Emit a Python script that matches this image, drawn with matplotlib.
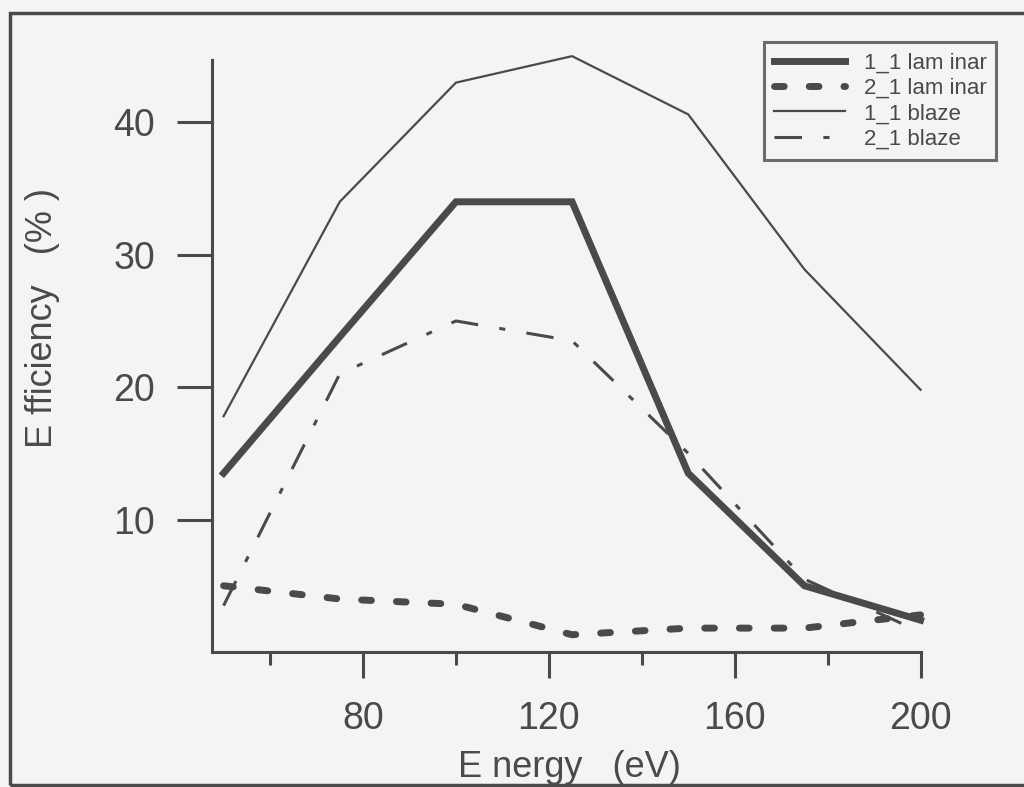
import numpy as np
import matplotlib.pyplot as plt
from matplotlib.patches import Rectangle

energy = [50, 75, 100, 125, 150, 175, 200]
lam_1_1 = [13.5, 23.8, 34.0, 34.0, 13.5, 5.0, 2.4]
lam_2_1 = [5.0, 4.0, 3.6, 1.3, 1.8, 1.8, 2.8]
blaze_1_1 = [17.8, 34.0, 43.0, 45.0, 40.6, 28.9, 19.8]
blaze_2_1 = [3.5, 21.0, 25.0, 23.5, 15.0, 5.5, 1.5]

ink = '#4a4a4a'
plt.rcParams['font.family'] = ['Liberation Sans', 'DejaVu Sans']

fig = plt.figure(figsize=(10.24, 7.87), dpi=100, facecolor='#f4f4f2')
ax = fig.add_axes([0.207, 0.1716, 0.692, 0.752])
ax.set_facecolor('#f4f4f2')

ax.plot(energy, lam_1_1, color=ink, lw=5, solid_joinstyle='miter', label='1_1 lam inar',
        clip_on=False)
ax.plot(energy, lam_2_1, color=ink, lw=5, dashes=(1.4, 3.6), dash_capstyle='round',
        label='2_1 lam inar', clip_on=False)
ax.plot(energy, blaze_1_1, color=ink, lw=1.6, label='1_1 blaze', clip_on=False)
ax.plot(energy, blaze_2_1, color=ink, lw=2.2, dashes=(9, 7, 2, 7), label='2_1 blaze',
        clip_on=False)

ax.set_xlim(47.5, 200)
ax.set_ylim(0, 44.7)
for s in ['top', 'right']:
    ax.spines[s].set_visible(False)
for s in ['left', 'bottom']:
    ax.spines[s].set_color(ink)
    ax.spines[s].set_linewidth(2.2)

ax.set_xticks([80, 120, 160, 200])
ax.set_xticks([60, 100, 140, 180], minor=True)
ax.set_yticks([10, 20, 30, 40])
ax.tick_params(axis='x', which='major', length=19, width=2.2, color=ink,
               labelsize=27, labelcolor=ink, pad=16)
ax.tick_params(axis='x', which='minor', length=9, width=2.2, color=ink)
ax.tick_params(axis='y', which='major', length=25, width=2.2, color=ink,
               labelsize=27, labelcolor=ink, pad=16)

ax.set_xlabel('E nergy   (eV)', fontsize=26, color=ink)
ax.xaxis.set_label_coords(0.504, -0.165)
ax.set_ylabel('E fficiency   (% )', fontsize=26, color=ink)
ax.yaxis.set_label_coords(-0.215, 0.565)

leg = ax.legend(loc='upper right', bbox_to_anchor=(1.107, 1.030), borderaxespad=0,
                fontsize=16, frameon=True, fancybox=False, handlelength=3.2,
                labelspacing=0.2, borderpad=0.45, handletextpad=0.85)
leg.get_frame().set_edgecolor(ink)
leg.get_frame().set_linewidth(2.2)
leg.get_frame().set_facecolor('#f4f4f2')
for t in leg.get_texts():
    t.set_color(ink)

fig.patches.append(Rectangle((0.0098, 0.0025), 1.2, 0.981, transform=fig.transFigure,
                             fill=False, edgecolor=ink, lw=2.5))

plt.savefig('out.png', dpi=100, facecolor=fig.get_facecolor())
